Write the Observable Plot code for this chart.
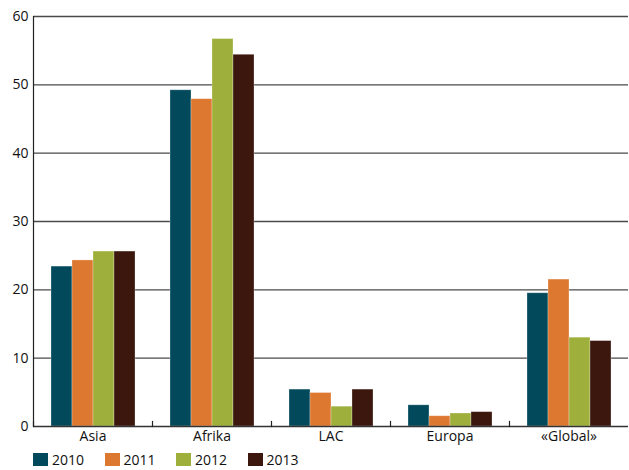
<!DOCTYPE html>
<html>
<head>
<meta charset="utf-8">
<script src="https://cdn.jsdelivr.net/npm/d3@7"></script>
<script src="https://cdn.jsdelivr.net/npm/@observablehq/plot@0.6"></script>
<style>
  body { margin: 0; background: #fff; font-family: "Open Sans", sans-serif; }
  #legend { display: flex; padding-left: 33px; margin-top: 0px; font-size: 14px; line-height: 17px; color: #111; }
  #legend .item { display: flex; align-items: center; width: 71.5px; }
  #legend .sw { width: 15px; height: 13px; margin-right: 4px; }
</style>
</head>
<body>
<div id="chart"></div>
<div id="legend"></div>
<script>
const regions = ["Asia", "Afrika", "LAC", "Europa", "«Global»"];
const years = ["2010", "2011", "2012", "2013"];
const colors = ["#02495b", "#dd7830", "#9faf3c", "#3b170d"];
const v2010 = [23.4, 49.2, 5.4, 3.1, 19.5];
const v2011 = [24.3, 47.9, 4.9, 1.5, 21.5];
const v2012 = [25.6, 56.7, 2.9, 1.9, 13.0];
const v2013 = [25.6, 54.4, 5.4, 2.1, 12.5];
const yTicks = [0, 10, 20, 30, 40, 50, 60];

const series = [v2010, v2011, v2012, v2013];
const data = [];
regions.forEach((r, i) => years.forEach((y, j) => data.push({region: r, year: y, value: series[j][i]})));

const chart = Plot.plot({
  width: 629,
  height: 451,
  marginTop: 16,
  marginBottom: 25,
  marginLeft: 32,
  marginRight: 0,
  style: {fontFamily: "'Open Sans', sans-serif", fontSize: "14px", color: "#111"},
  fx: {domain: regions, padding: 0, label: null, axis: null},
  x: {domain: years, paddingInner: 0, paddingOuter: 0.78, axis: null},
  y: {domain: [0, 60], axis: null},
  color: {domain: years, range: colors},
  marks: [
    Plot.ruleY(yTicks.filter(d => d > 0), {stroke: "#4a4a4a", strokeWidth: 1.4}),
    Plot.barY(data, {fx: "region", x: "year", y: "value", fill: "year", inset: 0, stroke: "#fff", strokeOpacity: 0.35, strokeWidth: 0.8}),
    Plot.ruleY([0], {stroke: "#333", strokeWidth: 1.4}),
    Plot.frame({anchor: "left", stroke: "#222", strokeWidth: 1.2, insetTop: 405}),
    Plot.frame({anchor: "left", stroke: "#222", strokeWidth: 1.2, facetAnchor: "left"}),
    Plot.axisY({ticks: yTicks, tickSize: 0, tickPadding: 5, label: null, tickFormat: d => d, fontSize: 14}),
    Plot.axisFx({anchor: "bottom", tickSize: 0, tickPadding: 5, label: null, fontSize: 14})
  ]
});
document.getElementById("chart").appendChild(chart);

const legend = document.getElementById("legend");
years.forEach((y, i) => {
  const item = document.createElement("div");
  item.className = "item";
  const sw = document.createElement("div");
  sw.className = "sw";
  sw.style.background = colors[i];
  item.appendChild(sw);
  const t = document.createElement("span");
  t.textContent = y;
  item.appendChild(t);
  legend.appendChild(item);
});
</script>
</body>
</html>
